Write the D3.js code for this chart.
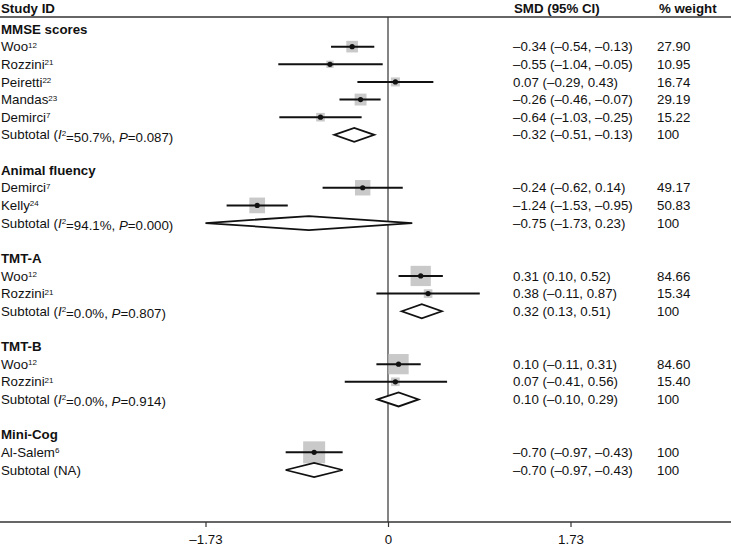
<!DOCTYPE html>
<html>
<head>
<meta charset="utf-8">
<script src="https://cdn.jsdelivr.net/npm/d3@7"></script>
<style>
  body { margin: 0; background: #fff; }
  svg text { font-family: "Liberation Sans", Arial, sans-serif; font-size: 13.3px; fill: #111; }
</style>
</head>
<body>
<div id="chart"></div>
<script>
// subgroups
const groups = ['MMSE scores', 'Animal fluency', 'TMT-A', 'TMT-B', 'Mini-Cog']
const subI2 = ['50.7', '94.1', '0.0', '0.0', null]
const subP = ['0.087', '0.000', '0.807', '0.914', null]
const subSMD = [-0.32, -0.75, 0.32, 0.10, -0.70]
const subLo = [-0.51, -1.73, 0.13, -0.10, -0.97]
const subHi = [-0.13, 0.23, 0.51, 0.29, -0.43]

// studies
const studyGroup = [0, 0, 0, 0, 0, 1, 1, 2, 2, 3, 3, 4]
const studyName = ['Woo', 'Rozzini', 'Peiretti', 'Mandas', 'Demirci', 'Demirci', 'Kelly', 'Woo', 'Rozzini', 'Woo', 'Rozzini', 'Al-Salem']
const studyRef = ['12', '21', '22', '23', '7', '7', '24', '12', '21', '12', '21', '6']
const studySMD = [-0.34, -0.55, 0.07, -0.26, -0.64, -0.24, -1.24, 0.31, 0.38, 0.10, 0.07, -0.70]
const studyLo = [-0.54, -1.04, -0.29, -0.46, -1.03, -0.62, -1.53, 0.10, -0.11, -0.11, -0.41, -0.97]
const studyHi = [-0.13, -0.05, 0.43, -0.07, -0.25, 0.14, -0.95, 0.52, 0.87, 0.31, 0.56, -0.43]
const studyWeight = ['27.90', '10.95', '16.74', '29.19', '15.22', '49.17', '50.83', '84.66', '15.34', '84.60', '15.40', '100']

const xTicks = [-1.73, 0, 1.73]

const width = 731, height = 546
const fmt = v => (v < 0 ? '\u2013' : '') + Math.abs(v).toFixed(2)
const ciText = (e, l, h) => fmt(e) + ' (' + fmt(l) + ', ' + fmt(h) + ')'

// build row list
const rows = []
groups.forEach((g, gi) => {
  rows.push({ type: 'group', label: g })
  studyGroup.forEach((sg, i) => { if (sg === gi) rows.push({ type: 'study', i: i }) })
  rows.push({ type: 'sub', g: gi })
  rows.push({ type: 'blank' })
})
rows.forEach((r, k) => { r.k = k })

const x = d3.scaleLinear().domain([-1.73, 1.73]).range([205.5, 570.5])
const y = d3.scaleLinear().domain([0, 25]).range([29, 470])
const axisY = 522, headLineY = 17
const box = d3.scaleSqrt().domain([0, 100]).range([0, 22])

const svg = d3.select('#chart').append('svg')
  .attr('width', width)
  .attr('height', height)

// header
const head = svg.append('g')
head.append('text').attr('x', 1).attr('y', 8).attr('dy', '0.35em').style('font-weight', 'bold').text('Study ID')
head.append('text').attr('x', 514).attr('y', 8).attr('dy', '0.35em').style('font-weight', 'bold').text('SMD (95% CI)')
head.append('text').attr('x', 659).attr('y', 8).attr('dy', '0.35em').style('font-weight', 'bold').text('% weight')

svg.append('line').attr('x1', 0).attr('x2', width).attr('y1', headLineY).attr('y2', headLineY)
  .attr('stroke', '#333').attr('stroke-width', 1.3)

// zero line
svg.append('line').attr('x1', x(0)).attr('x2', x(0)).attr('y1', headLineY).attr('y2', axisY)
  .attr('stroke', '#333').attr('stroke-width', 1.2)

// left labels
rows.forEach(r => {
  const yy = y(r.k)
  if (r.type === 'group') {
    svg.append('text').attr('x', 1).attr('y', yy).attr('dy', '0.35em').style('font-weight', 'bold').text(r.label)
  } else if (r.type === 'study') {
    const t = svg.append('text').attr('x', 1).attr('y', yy).attr('dy', '0.35em')
    t.append('tspan').text(studyName[r.i])
    t.append('tspan').attr('dy', '-0.45em').style('font-size', '8px').text(studyRef[r.i])
  } else if (r.type === 'sub') {
    const t = svg.append('text').attr('x', 1).attr('y', yy).attr('dy', '0.35em')
    if (subI2[r.g] === null) {
      t.append('tspan').text('Subtotal (NA)')
    } else {
      t.append('tspan').text('Subtotal (')
      t.append('tspan').style('font-style', 'italic').text('I')
      t.append('tspan').attr('dy', '-0.45em').style('font-size', '8px').text('2')
      t.append('tspan').attr('dy', '0.45em').text('=' + subI2[r.g] + '%, ')
      t.append('tspan').style('font-style', 'italic').text('P')
      t.append('tspan').text('=' + subP[r.g] + ')')
    }
  }
})

// study marks
const studyRows = rows.filter(r => r.type === 'study')
svg.append('g').selectAll('rect').data(studyRows).enter().append('rect')
  .attr('x', r => x(studySMD[r.i]) - box(+studyWeight[r.i]) / 2)
  .attr('y', r => y(r.k) - box(+studyWeight[r.i]) / 2)
  .attr('width', r => box(+studyWeight[r.i]))
  .attr('height', r => box(+studyWeight[r.i]))
  .attr('fill', '#c9c9c9')

svg.append('g').selectAll('line').data(studyRows).enter().append('line')
  .attr('x1', r => x(studyLo[r.i]))
  .attr('x2', r => x(studyHi[r.i]))
  .attr('y1', r => y(r.k))
  .attr('y2', r => y(r.k))
  .attr('stroke', '#111').attr('stroke-width', 2)

svg.append('g').selectAll('circle').data(studyRows).enter().append('circle')
  .attr('cx', r => x(studySMD[r.i]))
  .attr('cy', r => y(r.k))
  .attr('r', 2.6)
  .attr('fill', '#111')

// subtotal diamonds
const subRows = rows.filter(r => r.type === 'sub')
svg.append('g').selectAll('path').data(subRows).enter().append('path')
  .attr('d', r => {
    const yy = y(r.k), h = 7
    return 'M' + x(subLo[r.g]) + ',' + yy +
      'L' + x(subSMD[r.g]) + ',' + (yy - h) +
      'L' + x(subHi[r.g]) + ',' + yy +
      'L' + x(subSMD[r.g]) + ',' + (yy + h) + 'Z'
  })
  .attr('fill', '#fff')
  .attr('stroke', '#111')
  .attr('stroke-width', 1.8)
  .attr('stroke-linejoin', 'miter')

// right columns
rows.forEach(r => {
  const yy = y(r.k)
  let ci = null, w = null
  if (r.type === 'study') { ci = ciText(studySMD[r.i], studyLo[r.i], studyHi[r.i]); w = studyWeight[r.i] }
  if (r.type === 'sub') { ci = ciText(subSMD[r.g], subLo[r.g], subHi[r.g]); w = '100' }
  if (ci) {
    svg.append('text').attr('x', 513).attr('y', yy).attr('dy', '0.35em').text(ci)
    svg.append('text').attr('x', 657).attr('y', yy).attr('dy', '0.35em').text(w)
  }
})

// bottom axis
svg.append('line').attr('x1', 0).attr('x2', width).attr('y1', axisY).attr('y2', axisY)
  .attr('stroke', '#333').attr('stroke-width', 1.3)

const axis = svg.append('g')
  .attr('transform', 'translate(0,' + axisY + ')')
  .call(d3.axisBottom(x).tickValues(xTicks).tickSize(5).tickFormat(v => v === 0 ? '0' : fmt(v)))
axis.select('.domain').remove()
axis.selectAll('.tick line').attr('stroke', '#333').attr('stroke-width', 1.2)
axis.selectAll('.tick text').attr('y', 17).attr('dy', '0.35em')
  .style('font-family', '"Liberation Sans", Arial, sans-serif').style('font-size', '13.3px').attr('fill', '#111')
</script>
</body>
</html>
